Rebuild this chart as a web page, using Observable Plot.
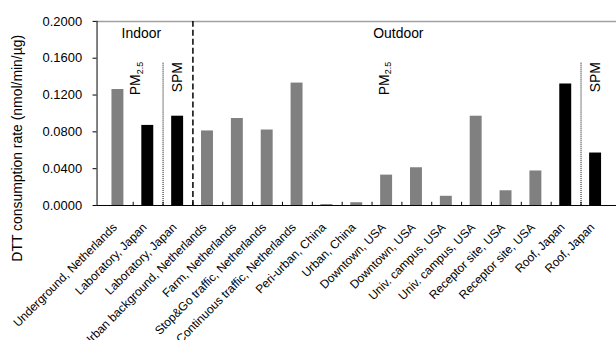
<!DOCTYPE html>
<html><head><meta charset="utf-8">
<script src="https://cdn.jsdelivr.net/npm/d3@7"></script>
<script src="https://cdn.jsdelivr.net/npm/@observablehq/plot@0.6"></script>
<style>
html,body{margin:0;padding:0;overflow:hidden;background:#fff}
#chart{width:616px;height:340px;overflow:hidden}
</style></head><body><div id="chart"></div>
<script>
const categories = ["Underground, Netherlands", "Laboratory, Japan", "Laboratory, Japan", "Urban background, Netherlands", "Farm, Netherlands", "Stop&Go traffic, Netherlands", "Continuous traffic, Netherlands", "Peri-urban, China", "Urban, China", "Downtown, USA", "Downtown, USA", "Univ. campus, USA", "Univ. campus, USA", "Receptor site, USA", "Receptor site, USA", "Roof, Japan", "Roof, Japan"];
const dttRate = [0.126, 0.087, 0.097, 0.081, 0.0945, 0.082, 0.133, 0.001, 0.003, 0.033, 0.041, 0.010, 0.097, 0.016, 0.0375, 0.132, 0.057];
const yTicks = [0, 0.04, 0.08, 0.12, 0.16, 0.2];
const yTitle = "DTT consumption rate (nmol/min/µg)";
const pmLabel = "PM";
const pmSub = "2.5";
const spmLabel = "SPM";

const data = categories.map((c, i) => ({i, label: c, country: c.split(", ")[1] === "Japan" ? "Japan" : "other", v: dttRate[i]}));
const W = 619, ML = 97, MR = 0;
const step = (W - ML - MR) / categories.length;
const font = "Arial, 'Liberation Sans', sans-serif";

function note(text, cat, yv, opts) {
  return Plot.text([text], {x: () => cat, y: () => yv, ...opts});
}
const vert = {rotate: -90, textAnchor: "start"};

const plot = Plot.plot({
  width: W, height: 340, marginLeft: ML, marginRight: MR, marginTop: 21, marginBottom: 134,
  style: {fontFamily: font, fontSize: "13px", color: "#000", background: "#fff", overflow: "visible"},
  x: {type: "band", domain: d3.range(categories.length), paddingInner: 0.6, paddingOuter: 0.3, axis: null},
  y: {domain: [0, 0.2], axis: null},
  color: {domain: ["Japan", "other"], range: ["#000000", "#808080"]},
  marks: [
    Plot.barY(data, {x: "i", y: "v", fill: "country"}),
    Plot.ruleY([0.2], {stroke: "#a0a0a0", strokeWidth: 1.5}),
    Plot.ruleY([0], {stroke: "#000"}),
    Plot.frame({anchor: "left", stroke: "#000"}),
    Plot.axisY({ticks: yTicks, tickFormat: d3.format(".4f"), tickSize: 4, tickPadding: 11, fontSize: 13, label: null}),
    Plot.axisX({tickFormat: i => categories[i], tickRotate: -45, tickSize: 0, tickPadding: 20, dx: -3, fontSize: 12, label: null}),
    Plot.ruleX(d3.range(categories.length - 1), {x: d => d, y1: 0, y2: 0.0035, dx: step / 2, stroke: "#000"}),
    Plot.ruleX([2], {x: d => d, dx: step / 2, stroke: "#000", strokeWidth: 1.5, strokeDasharray: "6,3"}),
    Plot.ruleX([1, 15], {x: d => d, y1: 0, y2: 0.155, dx: step / 2, stroke: "#000", strokeDasharray: "1,1"}),
    note("Indoor", 1, 0.1867, {dx: -6.5, fontSize: 14}),
    note("Outdoor", 9, 0.1867, {dx: 11.8, fontSize: 14}),
    note(pmLabel, 1, 0.1198, {...vert, dx: -12, fontSize: 14}),
    note(pmSub, 1, 0.1198, {...vert, dx: -8, dy: -21, fontSize: 9}),
    note(pmLabel, 9, 0.1198, {...vert, dx: -2, fontSize: 14}),
    note(pmSub, 9, 0.1198, {...vert, dx: 2, dy: -21, fontSize: 9}),
    note(spmLabel, 2, 0.123, {...vert, fontSize: 14}),
    note(spmLabel, 16, 0.123, {...vert, fontSize: 14}),
    Plot.text([yTitle], {frameAnchor: "left", textAnchor: "middle", rotate: -90, dx: -80, dy: 35, fontSize: 14})
  ]
});
document.getElementById("chart").appendChild(plot);
</script></body></html>
